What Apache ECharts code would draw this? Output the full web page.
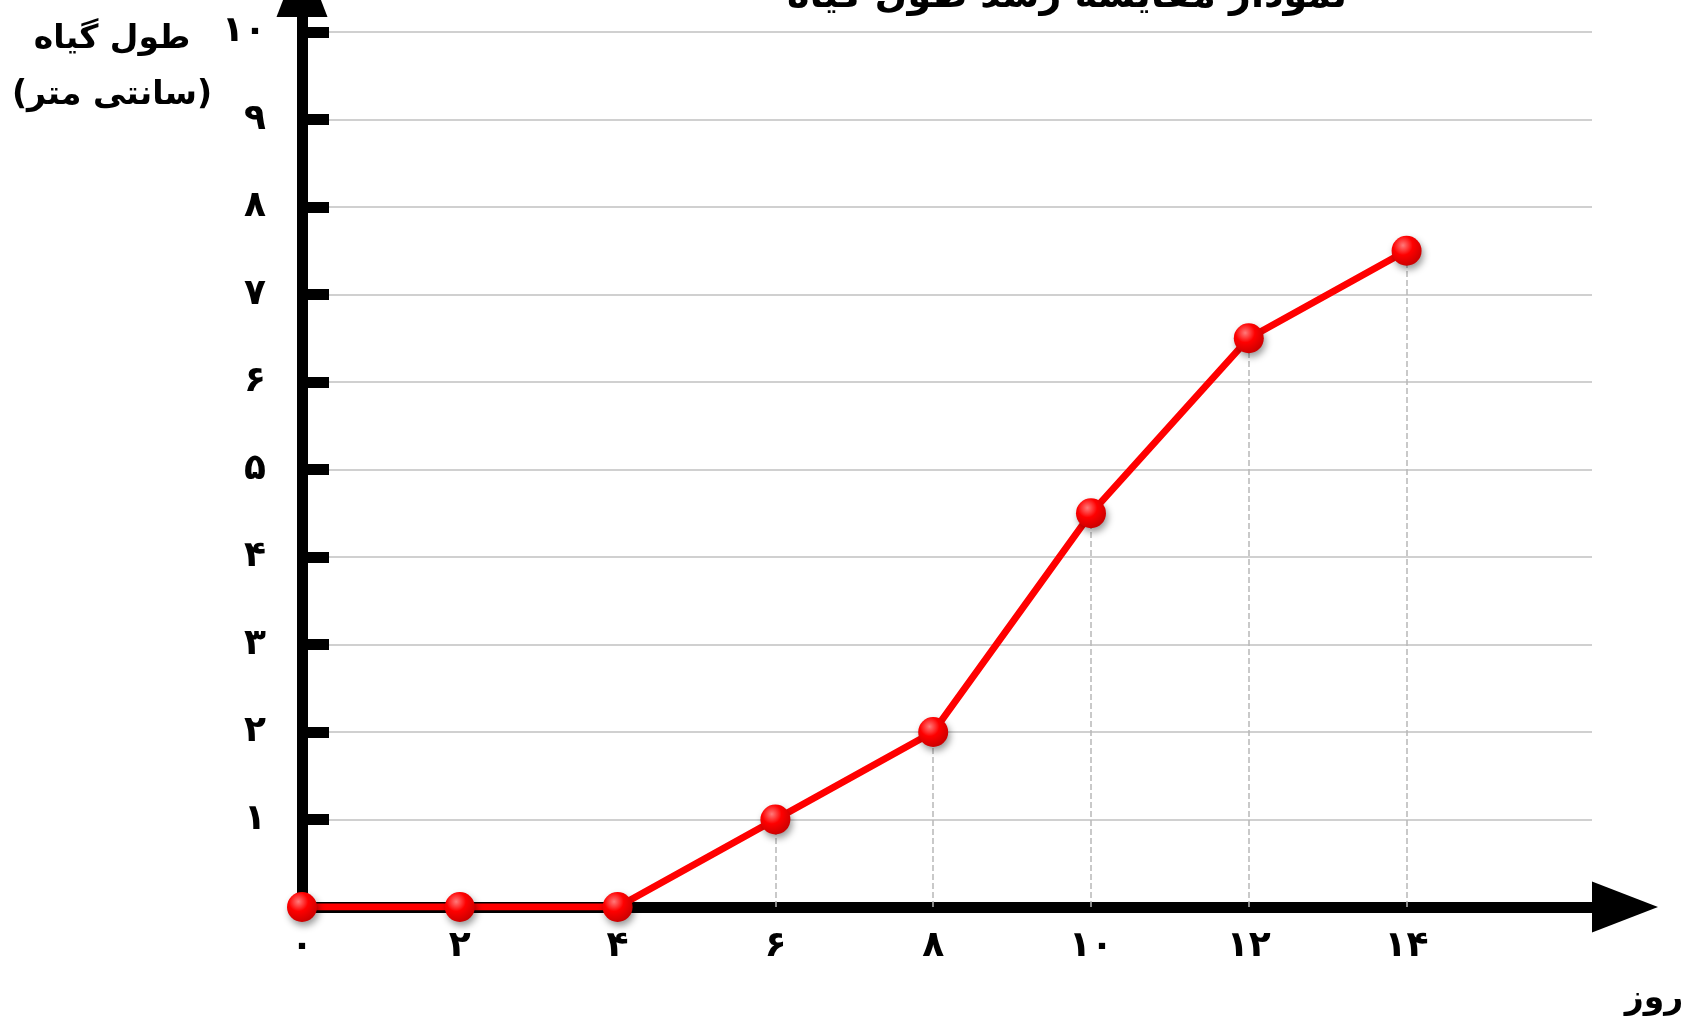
<!DOCTYPE html>
<html lang="fa">
<head>
<meta charset="utf-8">
<title>نمودار مقایسه رشد طول گیاه</title>
<script src="https://cdn.jsdelivr.net/npm/echarts@6/dist/echarts.min.js"></script>
<style>
  html, body { margin: 0; padding: 0; background: #fff; }
  #chart { width: 1687px; height: 1025px; }
</style>
</head>
<body>
<div id="chart"></div>
<script>
// روز
const days = [0, 2, 4, 6, 8, 10, 12, 14];
// طول گیاه (سانتی متر)
const heights = [0, 0, 0, 1, 2, 4.5, 6.5, 7.5];
// tick labels
const xLabels = [0, 2, 4, 6, 8, 10, 12, 14];
const yLabels = [1, 2, 3, 4, 5, 6, 7, 8, 9, 10];

const FONT = 'DejaVu Sans';
const faDigits = '۰۱۲۳۴۵۶۷۸۹';
const toFa = (n) => String(n).replace(/\d/g, (d) => faDigits[d]);

const labelStyle = {
  color: '#000',
  fontFamily: FONT,
  fontWeight: 'bold',
  fontSize: 36
};

// the thick black axes with arrow heads
const axisLineStyle = {
  show: true,
  onZero: false,
  symbol: ['none', 'triangle'],
  symbolSize: [51, 66],
  symbolOffset: [0, 33],
  lineStyle: { color: '#000', width: 11 }
};

// red ball markers
const ballColor = {
  type: 'radial', x: 0.38, y: 0.32, r: 0.72,
  colorStops: [
    { offset: 0, color: '#ff7a7a' },
    { offset: 0.45, color: '#ff0000' },
    { offset: 1, color: '#c80000' }
  ]
};

const seriesData = days.map((d, i) => [d, heights[i]]);

// dashed drop lines from each point to the x axis
const dropLines = days
  .map((d, i) => [{ coord: [d, 0] }, { coord: [d, heights[i]] }])
  .filter((pair) => pair[1].coord[1] > 0);

const option = {
  backgroundColor: '#fff',
  animation: false,
  title: [{
    text: 'نمودار مقایسه رشد طول گیاه',
    left: 1062,
    top: -27,
    textAlign: 'center',
    textStyle: { fontFamily: FONT, fontWeight: 'bold', fontSize: 38, color: '#000' }
  }, {
    text: 'طول گیاه\n(سانتی متر)',
    left: 107,
    top: 6,
    textAlign: 'center',
    textStyle: { fontFamily: FONT, fontWeight: 'bold', fontSize: 33, lineHeight: 56, color: '#000' }
  }, {
    text: 'روز',
    left: 1649,
    top: 978,
    textAlign: 'center',
    textStyle: { fontFamily: FONT, fontWeight: 'bold', fontSize: 33, color: '#000' }
  }],
  grid: [
    { left: 302, right: 95, top: 32, bottom: 118 },
    { left: 302, right: 95, top: 17, bottom: 118 }
  ],
  xAxis: [{
    gridIndex: 0,
    type: 'value',
    min: 0,
    max: 16.35,
    axisLine: { show: false },
    axisTick: { show: false },
    splitLine: { show: false },
    axisLabel: Object.assign({
      customValues: xLabels,
      margin: 22,
      formatter: (v) => toFa(v)
    }, labelStyle)
  }, {
    gridIndex: 1,
    type: 'value',
    min: 0,
    max: 1,
    axisLine: axisLineStyle,
    axisTick: { show: false },
    axisLabel: { show: false },
    splitLine: { show: false }
  }],
  yAxis: [{
    gridIndex: 0,
    type: 'value',
    min: 0,
    max: 10,
    interval: 1,
    axisLine: { show: false },
    axisTick: {
      show: true,
      inside: true,
      length: 27,
      lineStyle: { color: '#000', width: 11 }
    },
    splitLine: { show: true, lineStyle: { color: '#c0c0c0', width: 1.5 } },
    axisLabel: Object.assign({
      customValues: yLabels,
      margin: 36,
      formatter: (v) => toFa(v)
    }, labelStyle)
  }, {
    gridIndex: 1,
    type: 'value',
    min: 0,
    max: 1,
    axisLine: axisLineStyle,
    axisTick: { show: false },
    axisLabel: { show: false },
    splitLine: { show: false }
  }],
  series: [{
    type: 'line',
    xAxisIndex: 0,
    yAxisIndex: 0,
    data: seriesData,
    z: 5,
    symbol: 'circle',
    symbolSize: 30,
    lineStyle: { color: '#ff0000', width: 7 },
    itemStyle: {
      color: ballColor,
      shadowBlur: 7,
      shadowColor: 'rgba(0,0,0,0.4)',
      shadowOffsetX: 2,
      shadowOffsetY: 4
    },
    emphasis: { disabled: true },
    markLine: {
      silent: true,
      symbol: ['none', 'none'],
      label: { show: false },
      lineStyle: { color: '#b8b8b8', type: 'dashed', width: 1.5 },
      data: dropLines
    }
  }]
};

const myChart = echarts.init(document.getElementById('chart'));
myChart.setOption(option);
window.onresize = myChart.resize;
</script>
</body>
</html>
